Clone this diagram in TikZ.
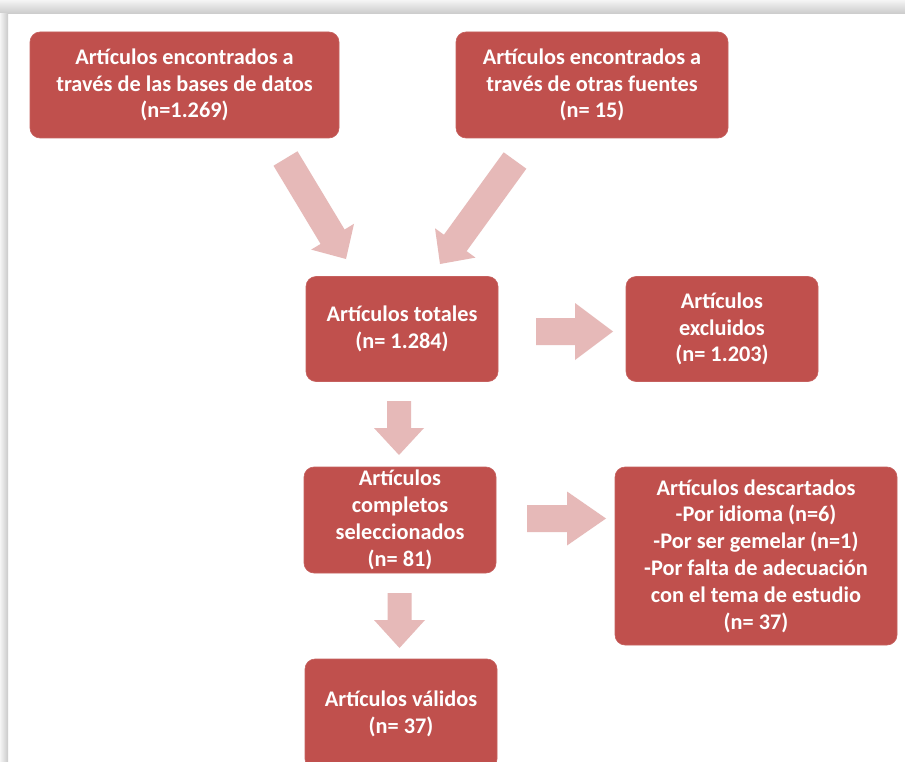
\documentclass[tikz,border=0pt]{standalone}
\usepackage{fontspec}
\setmainfont{Carlito}
\usetikzlibrary{calc}
\definecolor{boxred}{HTML}{C0504D}
\definecolor{arrowpink}{HTML}{E6B9B8}
\newcommand\blockarrow[5]{% tail, tip, half shaft, half head, head length
  \coordinate (tmpH) at ($(#2)!#5!(#1)$);
  \fill[arrowpink] ($(#1)!#3!90:(#2)$) -- ($(tmpH)!#3!90:(#2)$) -- ($(tmpH)!#4!90:(#2)$) -- (#2)
    -- ($(tmpH)!#4!-90:(#2)$) -- ($(tmpH)!#3!-90:(#2)$) -- ($(#1)!#3!-90:(#2)$) -- cycle;}
\begin{document}
\begin{tikzpicture}[x=1pt,y=-1pt,
  box/.style={fill=boxred, draw=boxred!90!white, line width=0.6pt, rounded corners=10pt,
    text=white, align=center, inner sep=0pt,
    font=\fontsize{22.3}{26.8}\selectfont\bfseries}]
\useasboundingbox (0,0) rectangle (905,762);
\fill[white] (0,0) rectangle (905,762);
% frame shadow
\shade[top color=gray!8, bottom color=gray!42] (0,0) rectangle (905,14);
\shade[left color=gray!8, right color=gray!42] (0,14) rectangle (8,762);
% boxes
\node[box, minimum width=309pt, minimum height=106pt] (b1) at (184.5,85)
  {Artículos encontrados a\\través de las bases de datos\\(n=1.269)};
\node[box, minimum width=272pt, minimum height=106pt] (b2) at (592,85)
  {Artículos encontrados a\\través de otras fuentes\\(n= 15)};
\node[box, minimum width=192pt, minimum height=105pt] (b3) at (402,329)
  {Artículos totales\\(n= 1.284)};
\node[box, minimum width=192pt, minimum height=105pt] (b4) at (722,329)
  {Artículos\\excluidos\\(n= 1.203)};
\node[box, minimum width=192pt, minimum height=106pt] (b5) at (400,520)
  {Artículos\\completos\\seleccionados\\(n= 81)};
\node[box, minimum width=282pt, minimum height=178pt] (b6) at (756,556)
  {Artículos descartados\\-Por idioma (n=6)\\-Por ser gemelar (n=1)\\-Por falta de adecuación\\con el tema de estudio\\(n= 37)};
\node[box, minimum width=192pt, minimum height=110pt] (b7) at (401,714)
  {Artículos válidos\\(n= 37)};
% arrow end points
\coordinate (a1s) at (285.5,158.5);
\coordinate (a1e) at (346,259);
\coordinate (a2s) at (515,160.5);
\coordinate (a2e) at (440,264);
\coordinate (a3s) at (536,331.5);
\coordinate (a3e) at (613,331.5);
\coordinate (a4s) at (399,401);
\coordinate (a4e) at (399,455);
\coordinate (a5s) at (527,518.5);
\coordinate (a5e) at (606,518.5);
\coordinate (a6s) at (399.5,593);
\coordinate (a6e) at (399.5,648);
\blockarrow{a1s}{a1e}{14pt}{25pt}{26pt}
\blockarrow{a2s}{a2e}{14pt}{25pt}{26pt}
\blockarrow{a3s}{a3e}{13.5pt}{28.5pt}{38pt}
\blockarrow{a4s}{a4e}{12pt}{25pt}{27pt}
\blockarrow{a5s}{a5e}{13.5pt}{27pt}{39pt}
\blockarrow{a6s}{a6e}{12pt}{25.5pt}{28pt}
\end{tikzpicture}
\end{document}
